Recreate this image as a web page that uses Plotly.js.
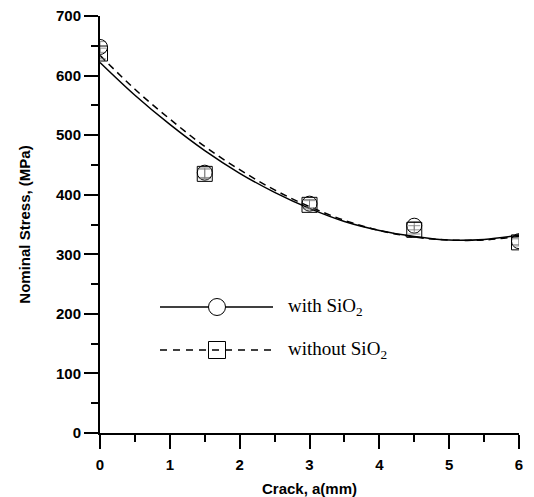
<!DOCTYPE html>
<html>
<head>
<meta charset="utf-8">
<script src="https://cdn.plot.ly/plotly-3.0.1.min.js"></script>
<style>html,body{margin:0;padding:0;background:#fff;}#chart{width:534px;height:497px;}</style>
</head>
<body>
<div id="chart"></div>
<script>
// Measured points
const crack = [0, 1.5, 3, 4.5, 6];
const withSiO2 = [648, 437, 385, 348, 322];
const withoutSiO2 = [637, 435, 383, 341, 320];
const errWith = [9, 8, 7, 7, 6];
const errWithout = [9, 8, 7, 7, 6];

// Fitted curves
const fitX = [0, 0.5, 1, 1.5, 2, 2.5, 3, 3.5, 4, 4.5, 5, 5.5, 6];
const fitWith = [622, 567, 518, 474, 436, 404, 377, 355, 340, 330, 324, 325, 332];
const fitWithout = [634, 577, 527, 481, 442, 408, 380, 357, 340, 329, 324, 324, 330];

const xTicks = [0, 1, 2, 3, 4, 5, 6];
const yTicks = [0, 100, 200, 300, 400, 500, 600, 700];

const legendLabels = ['with SiO<sub>2</sub>', 'without SiO<sub>2</sub>'];

const traces = [
  {x: fitX, y: fitWith, mode: 'lines', line: {color: '#000', width: 1.5, shape: 'spline'}, showlegend: false, hoverinfo: 'skip'},
  {x: fitX, y: fitWithout, mode: 'lines', line: {color: '#000', width: 1.5, dash: '7px,5px', shape: 'spline'}, showlegend: false, hoverinfo: 'skip'},
  {x: crack, y: withSiO2, mode: 'markers', name: 'with SiO2',
   marker: {symbol: 'circle-open', size: 15, color: '#000', line: {width: 1, color: '#333'}},
   error_y: {type: 'data', array: errWith, visible: true, color: '#777', thickness: 0.8, width: 6},
   showlegend: false},
  {x: crack, y: withoutSiO2, mode: 'markers', name: 'without SiO2',
   marker: {symbol: 'square-open', size: 15, color: '#000', line: {width: 1, color: '#333'}},
   error_y: {type: 'data', array: errWithout, visible: true, color: '#777', thickness: 0.8, width: 6},
   showlegend: false}
];

// legend geometry (paper coords, plot area 419x417 px)
const pw = 419, ph = 417;
const lx0 = 60 / pw, lx1 = 173 / pw, mx = 117 / pw;
const r1 = 126 / ph, r2 = 83 / ph;
const rx = 8.5 / pw, ry = 8.5 / ph;

const shapes = [
  {type: 'line', xref: 'paper', yref: 'paper', x0: lx0, x1: lx1, y0: r1, y1: r1, line: {color: '#000', width: 1.3}},
  {type: 'circle', xref: 'paper', yref: 'paper', x0: mx - rx, x1: mx + rx, y0: r1 - ry, y1: r1 + ry, line: {color: '#000', width: 1}, fillcolor: '#fff'},
  {type: 'line', xref: 'paper', yref: 'paper', x0: lx0, x1: lx1, y0: r2, y1: r2, line: {color: '#000', width: 1.3, dash: '7px,6px'}},
  {type: 'rect', xref: 'paper', yref: 'paper', x0: mx - rx, x1: mx + rx, y0: r2 - ry, y1: r2 + ry, line: {color: '#000', width: 1}}
];

const annotations = legendLabels.map((t, i) => ({
  xref: 'paper', yref: 'paper', x: 186 / pw, y: i === 0 ? r1 : r2,
  xanchor: 'left', yanchor: 'middle', showarrow: false, text: t,
  font: {family: 'Liberation Serif, Times New Roman, serif', size: 19, color: '#000'}
}));

const axisFont = {family: 'Liberation Sans, Arial, sans-serif', size: 15, color: '#000', weight: 'bold'};

const layout = {
  width: 534, height: 497,
  margin: {l: 100, r: 15, t: 16, b: 64},
  paper_bgcolor: '#fff', plot_bgcolor: '#fff',
  showlegend: false,
  xaxis: {
    range: [0, 6], tickvals: xTicks, ticktext: xTicks.map(String),
    showgrid: false, zeroline: false, showline: true, linecolor: '#000', linewidth: 2,
    ticks: 'outside', ticklen: 14, tickwidth: 2, tickcolor: '#000',
    minor: {dtick: 0.5, tick0: 0, ticks: 'outside', ticklen: 7, tickwidth: 2, tickcolor: '#000', showgrid: false},
    tickfont: axisFont, ticklabelstandoff: 3,
    title: {text: 'Crack, a(mm)', font: axisFont, standoff: 12}
  },
  yaxis: {
    range: [0, 700], tickvals: yTicks, ticktext: yTicks.map(String),
    showgrid: false, zeroline: false, showline: true, linecolor: '#000', linewidth: 2,
    ticks: 'outside', ticklen: 14, tickwidth: 2, tickcolor: '#000',
    minor: {dtick: 50, tick0: 0, ticks: 'outside', ticklen: 7, tickwidth: 2, tickcolor: '#000', showgrid: false},
    tickfont: axisFont,
    title: {text: 'Nominal Stress, (MPa)', font: axisFont, standoff: 22}
  },
  shapes: shapes,
  annotations: annotations
};

Plotly.newPlot('chart', traces, layout, {displayModeBar: false, staticPlot: true});
</script>
</body>
</html>
